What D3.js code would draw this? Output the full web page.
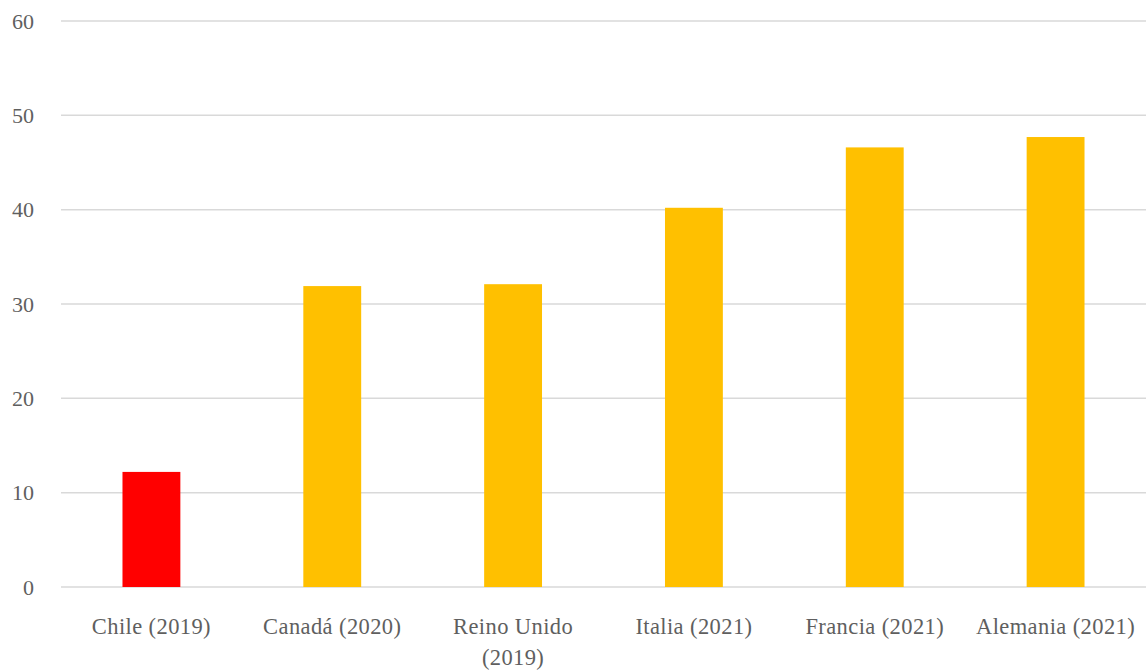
<!DOCTYPE html>
<html>
<head>
<meta charset="utf-8">
<script src="https://cdn.jsdelivr.net/npm/d3@7"></script>
<style>
  body { margin: 0; background: #fff; }
  text { font-family: "Liberation Serif", "DejaVu Serif", serif; fill: #5f5f5f; }
</style>
</head>
<body>
<div id="chart"></div>
<script>
const categories = ["Chile (2019)", "Canadá (2020)", "Reino Unido (2019)", "Italia (2021)", "Francia (2021)", "Alemania (2021)"];
const values = [12.2, 31.9, 32.1, 40.2, 46.6, 47.7];
const barColors = ["#ff0000", "#ffc000", "#ffc000", "#ffc000", "#ffc000", "#ffc000"];
const yTicks = [0, 10, 20, 30, 40, 50, 60];

const width = 1146, height = 671;
const margin = {top: 21, right: 0, bottom: 84, left: 61};

const svg = d3.select("#chart").append("svg")
    .attr("width", width)
    .attr("height", height);

const x = d3.scaleBand()
    .domain(categories)
    .range([margin.left, width - margin.right])
    .paddingInner(0.68)
    .paddingOuter(0.34);

const y = d3.scaleLinear()
    .domain([0, 60])
    .range([height - margin.bottom, margin.top]);

// gridlines
svg.append("g")
    .selectAll("line")
    .data(yTicks)
    .enter().append("line")
    .attr("x1", margin.left)
    .attr("x2", width - margin.right)
    .attr("y1", d => y(d))
    .attr("y2", d => y(d))
    .attr("stroke", "#d9d9d9")
    .attr("stroke-width", 1.5);

// y tick labels
svg.append("g")
    .selectAll("text")
    .data(yTicks)
    .enter().append("text")
    .attr("x", 34)
    .attr("y", d => y(d))
    .attr("dy", "0.35em")
    .attr("text-anchor", "end")
    .style("font-size", "22px")
    .text(d => d);

// bars
svg.append("g")
    .selectAll("rect")
    .data(values)
    .enter().append("rect")
    .attr("x", (d, i) => x(categories[i]))
    .attr("width", x.bandwidth())
    .attr("y", d => y(d))
    .attr("height", d => y(0) - y(d))
    .attr("fill", (d, i) => barColors[i]);

// category labels (wrap long ones)
const labels = svg.append("g")
    .selectAll("text")
    .data(categories)
    .enter().append("text")
    .attr("text-anchor", "middle")
    .attr("x", d => x(d) + x.bandwidth() / 2)
    .attr("y", 634)
    .style("font-size", "22.5px")
    .style("letter-spacing", "0.4px");

labels.each(function(d) {
    const t = d3.select(this);
    const lines = d === "Reino Unido (2019)" ? ["Reino Unido", "(2019)"] : [d];
    lines.forEach((l, i) => {
        t.append("tspan")
            .attr("x", x(d) + x.bandwidth() / 2)
            .attr("dy", i === 0 ? 0 : 31)
            .text(l);
    });
});
</script>
</body>
</html>
